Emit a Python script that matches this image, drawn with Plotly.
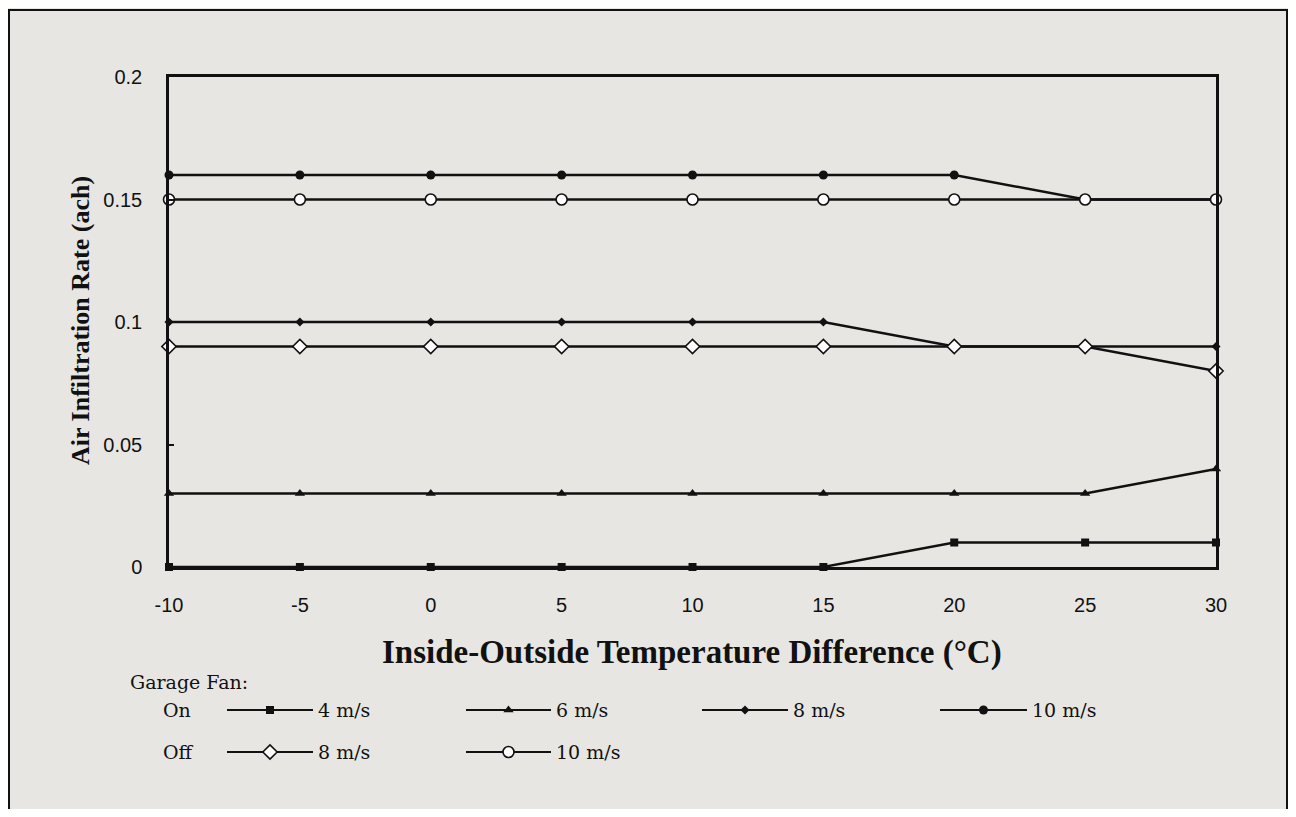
import plotly.graph_objects as go

# ---------------- data ----------------
temp_diff = [-10, -5, 0, 5, 10, 15, 20, 25, 30]
on_4ms = [0, 0, 0, 0, 0, 0, 0.01, 0.01, 0.01]
on_6ms = [0.03, 0.03, 0.03, 0.03, 0.03, 0.03, 0.03, 0.03, 0.04]
on_8ms = [0.10, 0.10, 0.10, 0.10, 0.10, 0.10, 0.09, 0.09, 0.09]
on_10ms = [0.16, 0.16, 0.16, 0.16, 0.16, 0.16, 0.16, 0.15, 0.15]
off_8ms = [0.09, 0.09, 0.09, 0.09, 0.09, 0.09, 0.09, 0.09, 0.08]
off_10ms = [0.15, 0.15, 0.15, 0.15, 0.15, 0.15, 0.15, 0.15, 0.15]

x_tickvals = [-10, -5, 0, 5, 10, 15, 20, 25, 30]
x_ticktext = ["-10", "-5", "0", "5", "10", "15", "20", "25", "30"]
y_tickvals = [0, 0.05, 0.1, 0.15, 0.2]
y_ticktext = ["0", "0.05", "0.1", "0.15", "0.2"]

x_title = "Inside-Outside Temperature Difference (°C)"
y_title = "Air Infiltration Rate (ach)"
legend_heading = "Garage Fan:"
legend_rows = ["On", "Off"]
legend_labels_on = ["4 m/s", "6 m/s", "8 m/s", "10 m/s"]
legend_labels_off = ["8 m/s", "10 m/s"]

# ---------------- styles / layout ----------------
OFF = 8                      # page body margin: figure sits at (8, 8)
W, H = 1296 - 2 * OFF, 817 - 2 * OFF
BG = "#e8e6e3"
INK = "#111111"
SERIF = "Liberation Serif, Times New Roman, serif"
LEGSERIF = "DejaVu Serif, Liberation Serif, serif"
SANS = "Liberation Sans, Arial, sans-serif"

styles = {
    "on4": dict(symbol="square", size=8, color=INK, line=dict(width=0)),
    "on6": dict(symbol="triangle-up", size=9, color=INK, line=dict(width=0)),
    "on8": dict(symbol="diamond", size=7, color=INK, line=dict(width=0)),
    "on10": dict(symbol="circle", size=9, color=INK, line=dict(width=0)),
    "off8": dict(symbol="diamond", size=11, color="white", line=dict(width=1.6, color=INK)),
    "off10": dict(symbol="circle", size=11, color="white", line=dict(width=1.6, color=INK)),
}

def fx(px):  # page x -> paper
    return (px - OFF) / W

def fy(py):  # page y -> paper
    return 1 - (py - OFF) / H

# plot area in page pixels
PX0, PX1, PY0, PY1 = 169, 1216, 77, 567

fig = go.Figure()

series = [
    ("On 10 m/s", on_10ms, "on10"),
    ("Off 10 m/s", off_10ms, "off10"),
    ("On 8 m/s", on_8ms, "on8"),
    ("Off 8 m/s", off_8ms, "off8"),
    ("On 6 m/s", on_6ms, "on6"),
    ("On 4 m/s", on_4ms, "on4"),
]
for name, ys, key in series:
    fig.add_trace(go.Scatter(
        x=temp_diff, y=ys, name=name, mode="lines+markers",
        line=dict(color=INK, width=2.4),
        marker=styles[key], cliponaxis=False, showlegend=False,
        xaxis="x", yaxis="y",
    ))

# ---------------- custom legend (page-pixel overlay axis) ----------------
def legend_sample(x0, x1, y, key):
    xm = (x0 + x1) / 2
    fig.add_trace(go.Scatter(
        x=[x0, x1], y=[y, y], mode="lines", line=dict(color=INK, width=2.2),
        showlegend=False, hoverinfo="skip", xaxis="x2", yaxis="y2", cliponaxis=False,
    ))
    fig.add_trace(go.Scatter(
        x=[xm], y=[y], mode="markers", marker=styles[key],
        showlegend=False, hoverinfo="skip", xaxis="x2", yaxis="y2", cliponaxis=False,
    ))

row_y = [710, 752]
on_samples = [(227, 313, "on4"), (466, 551, "on6"), (702, 788, "on8"), (940, 1027, "on10")]
off_samples = [(227, 313, "off8"), (466, 551, "off10")]

annotations = []

def ann(text, px, py, size, xanchor="left", bold=False, font=SERIF, textangle=0):
    annotations.append(dict(
        text=f"<b>{text}</b>" if bold else text,
        x=fx(px), y=fy(py), xref="paper", yref="paper",
        xanchor=xanchor, yanchor="middle", showarrow=False, textangle=textangle,
        font=dict(family=font, size=size, color=INK),
    ))

for (x0, x1, key), lab in zip(on_samples, legend_labels_on):
    legend_sample(x0, x1, row_y[0], key)
    ann(lab, x1 + 3, row_y[0], 19, font=LEGSERIF)
for (x0, x1, key), lab in zip(off_samples, legend_labels_off):
    legend_sample(x0, x1, row_y[1], key)
    ann(lab, x1 + 3, row_y[1], 19, font=LEGSERIF)

ann(legend_heading, 128, 682, 19, font=LEGSERIF)
ann(legend_rows[0], 161, row_y[0], 19, font=LEGSERIF)
ann(legend_rows[1], 161, row_y[1], 19, font=LEGSERIF)

# axis titles
ann(x_title, 692, 652, 33, xanchor="center", bold=True)
ann(y_title, 80, 321, 26, xanchor="center", bold=True, textangle=-90)

# outer frame
shapes = [dict(
    type="rect", xref="paper", yref="paper",
    x0=fx(9), x1=fx(1287), y0=fy(840), y1=fy(10),
    line=dict(color=INK, width=2), fillcolor="rgba(0,0,0,0)", layer="below",
)]

fig.update_layout(
    width=W, height=H,
    margin=dict(l=0, r=0, t=0, b=0, autoexpand=False),
    paper_bgcolor=BG, plot_bgcolor="rgba(0,0,0,0)",
    showlegend=False,
    annotations=annotations,
    shapes=shapes,
    xaxis=dict(
        domain=[fx(PX0), fx(PX1)], range=[-10, 30],
        tickvals=x_tickvals, ticktext=x_ticktext, ticks="", ticklabelstandoff=18,
        showgrid=False, zeroline=False, automargin=False,
        showline=True, mirror=True, linecolor=INK, linewidth=2.5,
        tickfont=dict(family=SANS, size=20, color=INK),
        anchor="y",
    ),
    yaxis=dict(
        domain=[fy(PY1), fy(PY0)], range=[0, 0.2],
        tickvals=y_tickvals, ticktext=y_ticktext,
        ticks="inside", ticklen=5, tickwidth=2, tickcolor=INK, ticklabelstandoff=20,
        showgrid=False, zeroline=False, automargin=False,
        showline=True, mirror=True, linecolor=INK, linewidth=2.5,
        tickfont=dict(family=SANS, size=20, color=INK),
        anchor="x",
    ),
    xaxis2=dict(domain=[0, 1], range=[OFF, OFF + W], visible=False, anchor="y2", fixedrange=True),
    yaxis2=dict(domain=[0, 1], range=[OFF + H, OFF], visible=False, anchor="x2", fixedrange=True),
)

fig.write_html("out.html")
